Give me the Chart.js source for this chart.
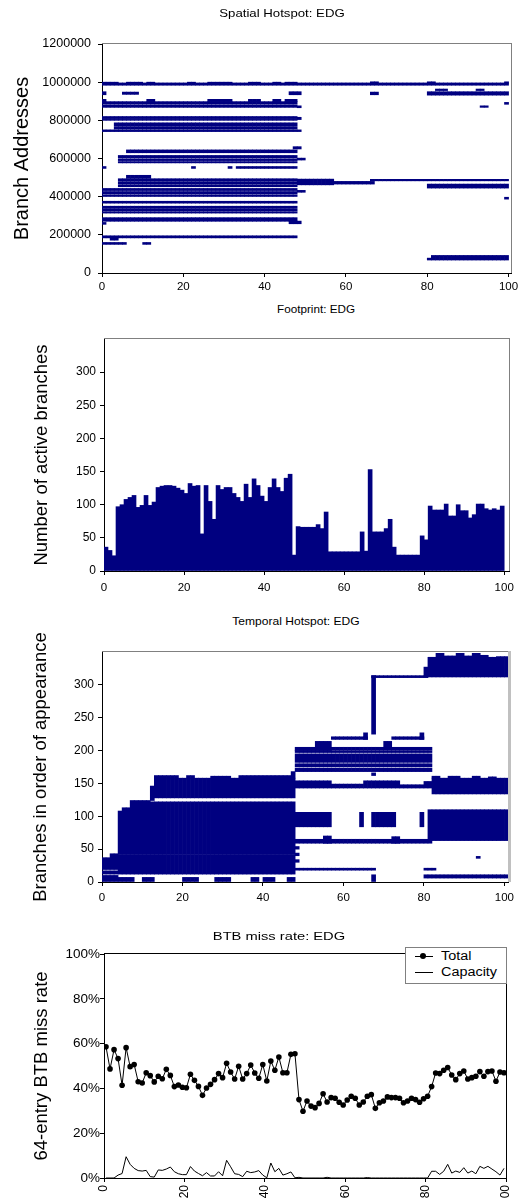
<!DOCTYPE html>
<html>
<head>
<meta charset="utf-8">
<script src="https://cdn.jsdelivr.net/npm/chart.js@4.4.1/dist/chart.umd.min.js"></script>
<style>
  html, body { margin: 0; padding: 0; overflow: hidden; background: #fff; }
  #page { position: relative; width: 532px; height: 1199px; overflow: hidden;
          font-family: "Liberation Sans", Arial, sans-serif; color: #000; }
  canvas { position: absolute; left: 0; }
  .ttl { position: absolute; white-space: nowrap; line-height: 1; }
  #key { position: absolute; left: 405px; top: 947px; width: 102px; height: 37px; box-sizing: border-box;
         border: 1px solid #808080; background: #fff; }
  #key .ln { position: absolute; left: 9px; width: 18px; height: 1px; background: #000; }
  #key .dot { position: absolute; left: 14px; width: 6px; height: 6px; border-radius: 50%; background: #000; }
  #key .tx { position: absolute; left: 35px; font-size: 12px; line-height: 14px; transform: scaleX(1.2); transform-origin: left center; }
</style>
</head>
<body>
<div id="page">
  <canvas id="spatial"   width="532" height="300" style="top:0px"></canvas>
  <canvas id="footprint" width="532" height="280" style="top:320px"></canvas>
  <canvas id="temporal"  width="532" height="275" style="top:630px"></canvas>
  <canvas id="btb"       width="532" height="300" style="top:940px"></canvas>

  <div class="ttl" style="left:282px;top:13px;font-size:11px;transform:translate(-50%,-50%) scaleX(1.2)">Spatial Hotspot: EDG</div>
  <div class="ttl" style="left:316px;top:309px;font-size:11.7px;transform:translate(-50%,-50%)">Footprint: EDG</div>
  <div class="ttl" style="left:296px;top:621px;font-size:11.6px;transform:translate(-50%,-50%) scaleX(1.04)">Temporal Hotspot: EDG</div>
  <div class="ttl" style="left:279px;top:936px;font-size:10.5px;transform:translate(-50%,-50%) scaleX(1.4)">BTB miss rate: EDG</div>

  <div id="key">
    <div class="ln" style="top:8px"></div><div class="dot" style="top:5px"></div>
    <span class="tx" style="top:1px">Total</span>
    <div class="ln" style="top:24px"></div>
    <span class="tx" style="top:17px">Capacity</span>
  </div>
</div>

<script>
// ── Data ─────────────────────────────────────────────────
const intervals = Array.from({ length: 100 }, (_, i) => i);   // sampling intervals 0..99
const intervalTicks = [0, 20, 40, 60, 80, 100];
const addrTicks  = [0, 200000, 400000, 600000, 800000, 1000000, 1200000];
const countTicks = [0, 50, 100, 150, 200, 250, 300];
const pctTicks   = [0, 20, 40, 60, 80, 100];

// active branches per interval
const footprint = [
   36, 31, 23, 97,100,108,111,114, 96, 99,
  114, 99,104,126,128,129,129,128,125,122,
  117,132,128,129, 56,129,105, 78,129,123,
  126,126,117,111,105,131,111,139,129,113,
  105,126,139,126,120,140,146, 24, 67, 66,
   66, 66, 66, 70, 64, 89, 29, 29, 29, 29,
   29, 29, 29, 29, 59, 30,153, 59, 59, 59,
   64, 78, 36, 24, 24, 24, 24, 24, 24, 53,
   47, 98, 92, 92, 92,101, 83, 83,100, 91,
   91, 80, 85,101,101, 94, 92, 94, 92, 98
];

// BTB miss rate (%) per interval
const missTotal = [
  58.6,48.7,57.3,53.3,41.4,58.2,49.7,50.7,43.0,42.4,
  47.0,45.7,42.9,45.4,44.3,48.5,45.8,40.8,41.5,40.5,
  40.3,46.3,43.6,40.9,36.9,40.2,41.8,43.9,46.6,44.8,
  51.2,47.3,44.2,49.9,44.2,46.6,50.4,46.9,44.5,50.7,
  43.3,52.2,48.1,54.0,47.0,47.0,55.2,55.5,35.0,29.8,
  34.4,32.1,31.4,33.3,37.6,33.9,35.9,35.6,33.8,32.6,
  34.8,36.5,35.6,32.6,33.9,36.5,37.2,31.1,33.6,34.4,
  36.2,35.9,35.9,35.6,33.6,34.4,35.6,35.0,33.8,35.4,
  36.5,40.8,46.9,46.6,48.1,49.3,46.0,43.9,46.6,47.8,
  44.2,44.8,45.4,47.5,45.4,47.5,47.8,43.2,47.3,47.0
];
const missCapacity = [
  0,0,0,1.3,2,9.5,6.1,4.3,3.3,3.1,
  3.4,0.6,0.4,3.6,3.4,4,4.9,2.8,1.9,1.5,
  1.5,5.1,3.1,2,1,2.4,0.9,0.9,2.8,1,
  7.9,5,1.9,1.6,0.6,3,2.4,2.7,3.3,1.3,
  0.1,6.7,2.8,4.3,1.3,1.9,2.7,0.1,0.3,0,
  0,0,0,0,0,0.3,0,0,0,0,
  0,0,0,0,0,0.2,0,0,0,0,
  0,0,0,0,0,0,0,0,0,0,
  0,3,3,1.6,3,6.1,2.2,3.1,2.5,4.6,
  2.2,3.1,1.9,5.2,4.3,5.2,4,2.8,1.3,4.3
];

// spatial hotspot: [first interval, end interval (excl.), low address, high address]
const spatialBands = [
  [0,100,984000,996000],
  [0,4,994000,1000000],[6,10,994000,1000000],[11,13,994000,1000000],[21,23,994000,1000000],
  [26,32,994000,1000000],[36,39,994000,1000000],[42,44,994000,1000000],[45,48,994000,1000000],
  [66,68,994000,1002000],[80,82,994000,1002000],[99,100,994000,1002000],
  [0,1,934000,950000],[5,9,936000,948000],[46,49,934000,950000],[66,68,934000,948000],
  [80,100,932000,950000],[82,85,956000,964000],[92,94,956000,964000],
  [0,48,884000,898000],[0,48,868000,879000],[48,49,866000,876000],
  [0,1,898000,910000],[11,13,898000,910000],[26,32,898000,910000],[36,39,898000,910000],
  [42,44,898000,910000],[45,48,898000,910000],[93,95,868000,876000],[99,100,884000,894000],
  [0,48,809000,820000],[0,48,800000,805000],[48,49,804000,816000],
  [3,48,768000,787000],[3,48,754000,764000],[0,49,741000,750000],
  [47,49,650000,662000],
  [6,48,630000,645000],
  [4,48,603000,616000],[4,48,589000,598000],[4,48,577000,584000],[48,50,592000,602000],
  [0,1,548000,558000],[22,23,548000,558000],[31,32,548000,558000],[33,48,548000,558000],
  [6,12,496000,512000],
  [4,48,480000,494000],[4,48,465000,476000],[4,48,452000,461000],
  [48,57,462000,492000],[57,67,466000,480000],
  [66,100,483000,491000],[80,100,445000,466000],
  [0,48,432000,443000],[0,48,415000,427000],[0,48,401000,410000],
  [48,50,423000,433000],[99,100,387000,397000],
  [0,48,366000,376000],
  [0,48,338000,350000],[0,48,325000,334000],[0,48,314000,321000],
  [0,48,271000,290000],[46,49,258000,272000],[0,1,255000,265000],
  [0,48,184000,195000],[2,4,172000,182000],
  [0,6,150000,160000],[10,12,150000,160000],
  [81,100,68000,92000],[80,81,68000,78000]
];

// temporal hotspot: [first interval, end interval (excl.), first branch id, last branch id]
const temporalBands = [
  [0,4,0,10],[0,4,12,17],[0,2,19,37],[2,4,19,43],
  [4,8,0,7],[10,13,0,7],[20,24,0,7],[28,32,0,7],[37,39,0,7],[40,43,0,7],[46,48,0,7],
  [4,48,12,42],
  [4,5,43,108],[5,7,43,113],[7,12,43,124],[12,48,43,122],
  [12,13,124,146],[13,48,128,158],
  [13,19,158,162],[21,23,158,162],[27,32,158,161],[34,47,158,162],[47,48,158,168],
  [48,49,30,34],[48,49,40,44],[48,49,50,54],
  [48,68,18,21],[67,68,0,11],[80,83,18,21],[80,101,6,11],[93,94,36,39],
  [48,82,59,65],[55,57,59,70],[72,74,59,69],
  [48,57,84,106],[64,65,84,106],[67,73,84,106],[79,80,84,106],
  [81,101,63,110],
  [48,57,143,154],[57,65,143,149],[65,74,143,154],[74,80,143,148],[80,82,143,153],
  [82,101,134,158],[82,84,158,161],[86,89,158,161],[92,94,158,161],[96,98,158,160],
  [67,68,162,166],
  [48,82,168,173],[48,82,175,180],[48,82,182,195],[48,82,197,200],
  [48,53,200,205],[53,57,200,214],[57,82,201,205],
  [57,66,217,221],[72,80,217,221],[65,66,217,227],[79,80,217,227],[70,72,205,214],
  [67,68,225,314],[67,81,311,314],
  [80,81,312,327],[81,83,312,342],[83,85,312,348],[85,88,312,344],[88,90,312,348],
  [90,92,312,344],[92,94,312,348],[94,96,312,345],[96,98,312,342],[98,101,312,343]
];

// ── Shared look ──────────────────────────────────────────
const W = 532;
const NAVY = '#000080';
Chart.defaults.font.family = '"Liberation Sans", Arial, sans-serif';
Chart.defaults.color = '#000';

// top + right frame of the plot area
const plotFrame = {
  id: 'plotFrame',
  afterDraw(chart, args, o) {
    const { ctx, chartArea: a } = chart;
    ctx.save();
    ctx.lineWidth = o.width;
    ctx.strokeStyle = o.color;
    ctx.beginPath();
    ctx.moveTo(a.left, Math.round(a.top) - 0.5);
    ctx.lineTo(a.right, Math.round(a.top) - 0.5);
    ctx.stroke();
    ctx.lineWidth = o.rightWidth || o.width;
    ctx.strokeStyle = o.rightColor || o.color;
    ctx.beginPath();
    ctx.moveTo(Math.round(a.right) + (o.rightWidth || 1) / 2, a.top - 1);
    ctx.lineTo(Math.round(a.right) + (o.rightWidth || 1) / 2, a.bottom);
    ctx.stroke();
    ctx.restore();
  }
};

function xAxis(o) {
  return {
    type: 'linear', min: o.min, max: o.max, offset: false, z: 1,
    grid: { display: true, offset: false, drawOnChartArea: false, drawTicks: true, tickLength: 4, color: '#000' },
    border: { display: true, color: '#000' },
    ticks: { font: { size: o.size }, padding: o.pad, autoSkip: false,
             minRotation: o.rot || 0, maxRotation: o.rot || 0, callback: v => String(v) },
    afterBuildTicks: s => { s.ticks = o.ticks.map(v => ({ value: v })); },
    afterFit: s => { s.height = o.height; }
  };
}

function yAxis(o) {
  return {
    type: 'linear', min: o.min, max: o.max, z: 1,
    grid: { display: true, drawOnChartArea: false, drawTicks: true, tickLength: 4, color: '#000' },
    border: { display: true, color: '#000' },
    ticks: { font: { size: o.size }, padding: o.pad, autoSkip: false, callback: o.fmt || (v => String(v)) },
    title: { display: true, text: o.title, color: '#000', font: { size: o.titleSize },
             padding: { top: o.titlePad, bottom: 0 } },
    afterBuildTicks: s => { s.ticks = o.ticks.map(v => ({ value: v })); },
    afterFit: s => { s.width = o.width; }
  };
}

function makeChart(id, canvasTop, canvasH, plot, type, datasets, xo, yo, frame) {
  xo.height = canvasTop + canvasH - plot.bottom;
  yo.width = plot.left;
  return new Chart(document.getElementById(id), {
    type,
    data: { datasets },
    options: {
      responsive: false, animation: false, devicePixelRatio: 1, events: [],
      layout: { padding: { top: plot.top - canvasTop, right: W - plot.right, bottom: 0, left: 0 } },
      plugins: { legend: { display: false }, title: { display: false }, tooltip: { enabled: false },
                 plotFrame: frame },
      scales: { x: xAxis(xo), y: yAxis(yo) }
    },
    plugins: [plotFrame]
  });
}

// one floating bar per interval covered by a band
function bandBars(bands) {
  const pts = [];
  bands.forEach(([from, to, lo, hi]) => {
    for (let i = from; i < to; i++) pts.push({ x: i + 0.5, y: [lo, hi] });
  });
  return pts;
}

const barStyle = { backgroundColor: NAVY, borderWidth: 0, grouped: false,
                   categoryPercentage: 1, barPercentage: 1 };

// ── Spatial hotspot ──────────────────────────────────────
makeChart('spatial', 0, 300, { left: 102, right: 511, top: 44, bottom: 273 }, 'bar',
  [{ ...barStyle, data: bandBars(spatialBands) }],
  { min: 0, max: 100.6, ticks: intervalTicks, size: 11.5, pad: 3 },
  { min: 0, max: 1200000, ticks: addrTicks, size: 12.5, pad: 7,
    title: 'Branch Addresses', titleSize: 20, titlePad: 10.4 },
  { color: '#808080', width: 1 });

// ── Footprint ────────────────────────────────────────────
makeChart('footprint', 320, 280, { left: 104, right: 509, top: 339, bottom: 571 }, 'bar',
  [{ ...barStyle, grouped: true, data: footprint.map((v, i) => ({ x: intervals[i] + 0.5, y: v })) }],
  { min: 0, max: 101.2, ticks: intervalTicks, size: 11.5, pad: 6 },
  { min: 0, max: 350, ticks: countTicks, size: 12, pad: 4,
    title: 'Number of active branches', titleSize: 18.5, titlePad: 31 },
  { color: '#808080', width: 1 });

// ── Temporal hotspot ─────────────────────────────────────
makeChart('temporal', 630, 275, { left: 102, right: 508, top: 652, bottom: 882 }, 'bar',
  [{ ...barStyle, data: bandBars(temporalBands) }],
  { min: 0, max: 100.9, ticks: intervalTicks, size: 11.5, pad: 5 },
  { min: 0, max: 350, ticks: countTicks, size: 12, pad: 4,
    title: 'Branches in order of appearance', titleSize: 18.5, titlePad: 30 },
  { color: '#808080', width: 1, rightColor: '#c0c0c0', rightWidth: 3 });

// ── BTB miss rate ────────────────────────────────────────
makeChart('btb', 940, 300, { left: 104, right: 506, top: 954, bottom: 1178 }, 'line',
  [
    { label: 'Total', data: missTotal.map((v, i) => ({ x: intervals[i] + 0.5, y: v })),
      borderColor: '#000', borderWidth: 1, pointRadius: 2.8, pointBackgroundColor: '#000',
      pointBorderColor: '#000', pointBorderWidth: 0, tension: 0 },
    { label: 'Capacity', data: missCapacity.map((v, i) => ({ x: intervals[i] + 0.5, y: v })),
      borderColor: '#000', borderWidth: 1, pointRadius: 0, tension: 0 }
  ],
  { min: 0, max: 100, ticks: intervalTicks, size: 12, pad: 3, rot: 90 },
  { min: 0, max: 100, ticks: pctTicks, size: 13.5, pad: 0, fmt: v => v + '%',
    title: '64-entry BTB miss rate', titleSize: 18.5, titlePad: 31 },
  { color: '#000', width: 1 });
</script>
</body>
</html>
